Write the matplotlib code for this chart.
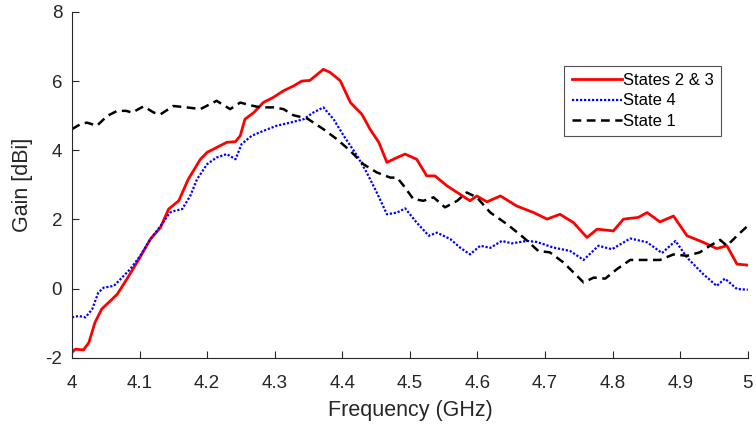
import matplotlib
matplotlib.use("Agg")
import matplotlib.pyplot as plt

# --- data (frequency in GHz, gain in dBi) ---
freq_s23 = [4.000, 4.005, 4.017, 4.025, 4.034, 4.044, 4.057, 4.067, 4.081, 4.099,
            4.116, 4.131, 4.143, 4.158, 4.172, 4.190, 4.200, 4.214, 4.229, 4.242,
            4.249, 4.256, 4.269, 4.283, 4.298, 4.313, 4.328, 4.340, 4.352, 4.372,
            4.382, 4.397, 4.412, 4.429, 4.441, 4.454, 4.466, 4.481, 4.493, 4.510,
            4.525, 4.537, 4.555, 4.574, 4.589, 4.599, 4.614, 4.634, 4.658, 4.683,
            4.703, 4.722, 4.742, 4.762, 4.777, 4.801, 4.816, 4.838, 4.851, 4.870,
            4.890, 4.910, 4.934, 4.954, 4.969, 4.984, 5.000]
gain_s23 = [-1.84, -1.75, -1.77, -1.56, -0.98, -0.59, -0.35, -0.16, 0.27, 0.85,
            1.43, 1.77, 2.30, 2.54, 3.16, 3.74, 3.94, 4.08, 4.23, 4.25,
            4.42, 4.90, 5.09, 5.38, 5.53, 5.72, 5.86, 6.00, 6.02, 6.34,
            6.25, 6.01, 5.38, 5.04, 4.61, 4.23, 3.65, 3.79, 3.89, 3.74,
            3.26, 3.26, 2.97, 2.73, 2.54, 2.68, 2.51, 2.68, 2.39, 2.20,
            2.01, 2.15, 1.91, 1.48, 1.72, 1.67, 2.01, 2.06, 2.20, 1.93,
            2.10, 1.53, 1.34, 1.16, 1.24, 0.71, 0.68]

freq_s4 = [4.000, 4.010, 4.020, 4.030, 4.039, 4.047, 4.062, 4.074, 4.086, 4.101,
           4.116, 4.131, 4.145, 4.152, 4.163, 4.175, 4.185, 4.200, 4.214, 4.229,
           4.242, 4.251, 4.266, 4.283, 4.303, 4.323, 4.343, 4.357, 4.372, 4.387,
           4.402, 4.422, 4.436, 4.451, 4.466, 4.481, 4.493, 4.510, 4.528, 4.540,
           4.560, 4.574, 4.589, 4.604, 4.619, 4.636, 4.651, 4.673, 4.688, 4.712,
           4.737, 4.757, 4.779, 4.799, 4.826, 4.851, 4.873, 4.893, 4.910, 4.934,
           4.954, 4.966, 4.984, 5.000]
gain_s4 = [-0.83, -0.79, -0.83, -0.59, -0.11, 0.03, 0.08, 0.32, 0.56, 0.95,
           1.43, 1.81, 2.20, 2.25, 2.30, 2.68, 3.16, 3.60, 3.79, 3.89,
           3.74, 4.18, 4.42, 4.56, 4.71, 4.80, 4.90, 5.09, 5.24, 4.90,
           4.42, 3.84, 3.36, 2.78, 2.15, 2.20, 2.32, 1.91, 1.53, 1.62,
           1.43, 1.19, 0.99, 1.24, 1.18, 1.38, 1.31, 1.38, 1.35, 1.19,
           1.09, 0.83, 1.24, 1.14, 1.45, 1.34, 1.03, 1.38, 0.90, 0.42,
           0.08, 0.29, -0.01, -0.03]

freq_s1 = [4.000, 4.012, 4.022, 4.037, 4.052, 4.067, 4.080, 4.089, 4.106, 4.121,
           4.131, 4.150, 4.170, 4.190, 4.214, 4.234, 4.249, 4.264, 4.279, 4.298,
           4.313, 4.328, 4.348, 4.372, 4.392, 4.412, 4.431, 4.451, 4.471, 4.481,
           4.491, 4.505, 4.520, 4.535, 4.552, 4.570, 4.584, 4.599, 4.619, 4.644,
           4.668, 4.690, 4.707, 4.727, 4.742, 4.757, 4.772, 4.789, 4.806, 4.826,
           4.846, 4.870, 4.890, 4.910, 4.929, 4.944, 4.959, 4.969, 4.984, 5.000]
gain_s1 = [4.61, 4.75, 4.80, 4.71, 4.99, 5.14, 5.14, 5.09, 5.27, 5.09,
           5.04, 5.28, 5.24, 5.19, 5.43, 5.19, 5.38, 5.30, 5.24, 5.24,
           5.19, 5.01, 4.92, 4.61, 4.32, 3.98, 3.60, 3.36, 3.21, 3.21,
           2.97, 2.59, 2.54, 2.64, 2.35, 2.54, 2.78, 2.64, 2.20, 1.86,
           1.48, 1.09, 1.05, 0.76, 0.47, 0.18, 0.32, 0.29, 0.56, 0.83,
           0.83, 0.83, 0.99, 0.95, 1.05, 1.24, 1.41, 1.24, 1.53, 1.82]

x_ticks = [4, 4.1, 4.2, 4.3, 4.4, 4.5, 4.6, 4.7, 4.8, 4.9, 5]
x_tick_labels = ["4", "4.1", "4.2", "4.3", "4.4", "4.5", "4.6", "4.7", "4.8", "4.9", "5"]
y_ticks = [-2, 0, 2, 4, 6, 8]

plt.rcParams['font.family'] = ['Liberation Sans', 'DejaVu Sans']
plt.rcParams['axes.unicode_minus'] = False

fig = plt.figure(figsize=(7.56, 4.25), dpi=100)
ax = fig.add_axes([0.0952, 0.158, 0.894, 0.814])

ax.plot(freq_s23, gain_s23, color='#ff0000', lw=2.0, label='States 2 & 3')
ax.plot(freq_s4, gain_s4, color='#0000ff', lw=1.6, linestyle=(0, (1, 0.8)), label='State 4')
ax.plot(freq_s1, gain_s1, color='black', lw=1.8, linestyle=(0, (3.5, 2.2)), label='State 1')

ax.set_xlim(4, 5)
ax.set_ylim(-2, 8)
ax.set_xticks(x_ticks)
ax.set_xticklabels(x_tick_labels)
ax.set_yticks(y_ticks)

for side in ['top', 'right']:
    ax.spines[side].set_visible(False)
for side in ['left', 'bottom']:
    ax.spines[side].set_color('#262626')
    ax.spines[side].set_linewidth(0.8)

ax.tick_params(direction='in', length=5, width=0.8, colors='#262626',
               labelsize=13.5, labelcolor='#262626')
ax.tick_params(axis='x', pad=12)
ax.tick_params(axis='y', pad=7)
ax.set_xlabel('Frequency (GHz)', fontsize=15.5, color='#262626', labelpad=6)
ax.set_ylabel('Gain [dBi]', fontsize=15.5, color='#262626', labelpad=9)

leg = ax.legend(loc='upper right', bbox_to_anchor=(0.961, 0.845), fontsize=12,
                frameon=True, fancybox=False, handlelength=3.0, handletextpad=0.1,
                borderpad=0.45, labelspacing=0.32, borderaxespad=0)
leg.get_frame().set_edgecolor('#262626')
leg.get_frame().set_linewidth(0.8)

fig.savefig('out.png', dpi=100)
